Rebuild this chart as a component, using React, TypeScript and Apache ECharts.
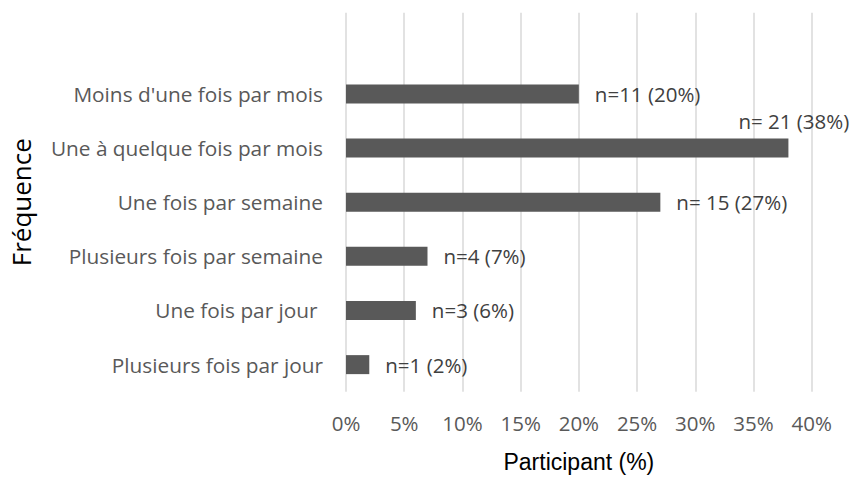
import React, { useEffect, useRef } from "react";
import * as echarts from "echarts";

const categories = [
  "Plusieurs fois par jour",
  "Une fois par jour ",
  "Plusieurs fois par semaine",
  "Une fois par semaine",
  "Une à quelque fois par mois",
  "Moins d'une fois par mois",
  "",
];
const percents: (number | null)[] = [2, 6, 7, 27, 38, 20, null];
const dataLabels = [
  "n=1 (2%)",
  "n=3 (6%)",
  "n=4 (7%)",
  "n= 15 (27%)",
  "n= 21 (38%)",
  "n=11 (20%)",
  "",
];
const xTicks = { min: 0, max: 40, interval: 5 };

export default function App() {
  const ref = useRef<HTMLDivElement>(null);
  useEffect(() => {
    if (!ref.current) return;
    const chart = echarts.init(ref.current, undefined, { renderer: "svg" });
    const seriesData = percents.map((v, i) => {
      const item: any = { value: v };
      if (i === 4) {
        item.label = { position: "right", distance: 0, offset: [-50, -27] };
      }
      return item;
    });
    chart.setOption({
      animation: false,
      backgroundColor: "#ffffff",
      grid: { left: 345.5, right: 44.3, top: 12.7, bottom: 89.3, containLabel: false },
      xAxis: {
        type: "value",
        min: xTicks.min,
        max: xTicks.max,
        interval: xTicks.interval,
        name: "Participant (%)",
        nameLocation: "middle",
        nameGap: 59,
        nameTextStyle: { fontFamily: "Liberation Sans", fontSize: 23, color: "#000000" },
        axisLine: { show: false },
        axisTick: { show: false },
        axisLabel: {
          formatter: "{value}%",
          fontFamily: "Open Sans",
          fontSize: 20.5,
          color: "#595959",
          margin: 21,
        },
        splitLine: { show: true, lineStyle: { color: "#d9d9d9", width: 1.5 } },
      },
      yAxis: {
        type: "category",
        data: categories,
        name: "Fréquence",
        nameLocation: "middle",
        nameGap: 312,
        nameRotate: 90,
        nameTextStyle: { fontFamily: "Open Sans", fontSize: 26, color: "#000000" },
        axisLine: { show: false },
        axisTick: { show: false },
        axisLabel: { fontFamily: "Open Sans", fontSize: 20.8, color: "#595959", margin: 23 },
        splitLine: { show: false },
      },
      series: [
        {
          type: "bar",
          data: seriesData,
          barWidth: 19,
          itemStyle: { color: "#595959" },
          label: {
            show: true,
            position: "right",
            distance: 16,
            fontFamily: "Open Sans",
            fontSize: 20.5,
            color: "#404040",
            formatter: (p: any) => dataLabels[p.dataIndex],
          },
        },
      ],
    });
    return () => chart.dispose();
  }, []);
  return (
    <div
      ref={ref}
      style={{ position: "fixed", left: 0, top: 0, width: 856, height: 481 }}
    />
  );
}
